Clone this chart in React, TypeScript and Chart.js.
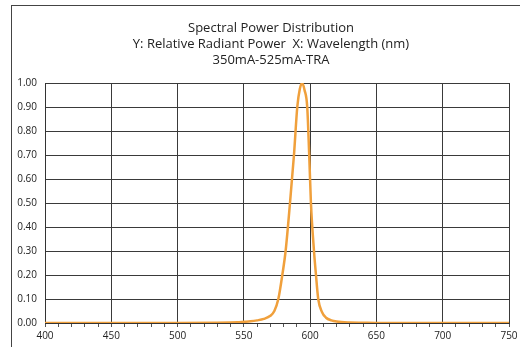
import React, { useEffect, useRef } from "react";
import { Chart, registerables } from "chart.js";

Chart.register(...registerables);

const titleLines = [
  "Spectral Power Distribution",
  "Y: Relative Radiant Power  X: Wavelength (nm)",
  "350mA-525mA-TRA",
];

const wavelengths = [
  400, 450, 500, 530, 540, 545, 550, 555, 560, 565, 570, 573, 576, 579, 581.5,
  584.8, 587.8, 590.3, 592.2, 594, 595.8, 597.8, 599.3, 600.6, 602.9, 604.4,
  606.1, 609, 612, 616, 620, 630, 640, 650, 700, 750,
];

const relativePower = [
  0, 0, 0, 0.001, 0.002, 0.003, 0.005, 0.007, 0.011, 0.017, 0.03, 0.05, 0.1,
  0.2, 0.3, 0.5, 0.7, 0.9, 0.975, 1.0, 0.97, 0.9, 0.7, 0.5, 0.3, 0.2, 0.1,
  0.045, 0.022, 0.011, 0.006, 0.002, 0.001, 0, 0, 0,
];

const xMin = 400;
const xMax = 750;
const xMajorStep = 50;
const xMinorStep = 10;
const yMin = 0;
const yMax = 1;
const yStep = 0.1;

const FONT = "'Open Sans', 'Liberation Sans', sans-serif";
const CANVAS_W = 542;
const CANVAS_H = 347;

export default function App() {
  const ref = useRef<HTMLCanvasElement | null>(null);

  useEffect(() => {
    const canvas = ref.current;
    if (!canvas) return;
    const points = wavelengths.map((x, i) => ({ x, y: relativePower[i] }));
    const chart = new Chart(canvas, {
      type: "scatter",
      data: {
        datasets: [
          {
            data: points,
            showLine: true,
            borderColor: "#F0A03C",
            backgroundColor: "#F0A03C",
            borderWidth: 2.5,
            pointRadius: 0,
            cubicInterpolationMode: "monotone",
          },
        ],
      },
      options: {
        animation: false,
        responsive: false,
        maintainAspectRatio: false,
        layout: { padding: { left: 0, right: 0, top: 0, bottom: 2 } },
        plugins: {
          legend: { display: false },
          tooltip: { enabled: false },
          title: {
            display: true,
            text: titleLines,
            color: "#222",
            font: { family: FONT, size: 13, weight: "normal", lineHeight: "16px" },
            padding: { top: 20, bottom: 15 },
          },
        },
        scales: {
          x: {
            type: "linear",
            min: xMin,
            max: xMax,
            border: { color: "#333", width: 1 },
            grid: {
              color: (ctx: any) =>
                ctx.tick && ctx.tick.value % xMajorStep === 0 ? "#3a3a3a" : "rgba(0,0,0,0)",
              tickColor: "#555",
              tickLength: 4,
              lineWidth: 1,
            },
            ticks: {
              stepSize: xMinorStep,
              autoSkip: false,
              maxRotation: 0,
              padding: 3,
              color: "#222",
              font: { family: FONT, size: 10 },
              callback: (v: any) => (Number(v) % xMajorStep === 0 ? String(v) : ""),
            },
            afterFit: (scale: any) => {
              scale.paddingRight = 33;
              scale.paddingLeft = 0;
            },
          },
          y: {
            type: "linear",
            min: yMin,
            max: yMax,
            border: { color: "#333", width: 1 },
            grid: { color: "#3a3a3a", lineWidth: 1, drawTicks: false },
            ticks: {
              stepSize: yStep,
              padding: 8,
              color: "#222",
              font: { family: FONT, size: 10 },
              callback: (v: any) => Number(v).toFixed(2),
            },
            afterFit: (scale: any) => {
              scale.width = 45;
            },
          },
        },
      },
    });
    return () => chart.destroy();
  }, []);

  return (
    <div
      style={{
        position: "fixed",
        left: 0,
        top: 0,
        width: 520,
        height: 347,
        overflow: "hidden",
        background: "#fff",
      }}
    >
      <div
        style={{
          position: "absolute",
          left: 11,
          top: 5,
          width: 600,
          height: 500,
          border: "1.5px solid #444",
          boxSizing: "border-box",
        }}
      />
      <canvas
        ref={ref}
        width={CANVAS_W}
        height={CANVAS_H}
        style={{ position: "absolute", left: 0, top: 0, width: CANVAS_W, height: CANVAS_H }}
      />
    </div>
  );
}
